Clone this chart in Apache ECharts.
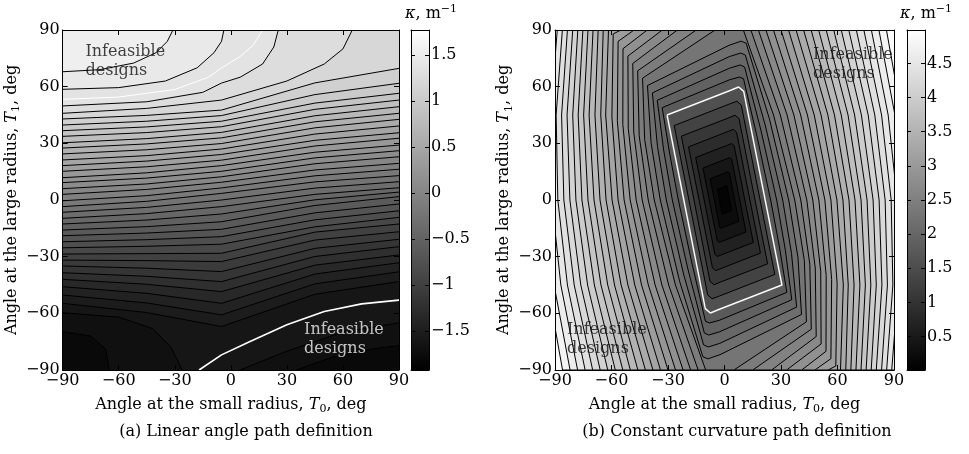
<!DOCTYPE html>
<html>
<head>
<meta charset="utf-8">
<title>Curvature maps</title>
<script src="https://cdn.jsdelivr.net/npm/echarts@6.0.0/dist/echarts.min.js"></script>
<style>
  html, body { margin: 0; padding: 0; background: #fff; }
  #chart { width: 969px; height: 454px; }
</style>
</head>
<body>
<div id="chart"></div>
<script>
const FONT = 'DejaVu Serif';
const FS = 16;

// ---------- (a) linear angle path definition ----------
const aRange = [-1.92, 1.77];
const aBarTicks = [-1.5, -1, -0.5, 0, 0.5, 1, 1.5];
const aStep = 0.09;
const aCols = [-90, -45, -5, 45, 90];
// T1 of each edge-to-edge contour read at aCols, lowest first
const aRows = [
  [-54.7, -59.6, -67.0, -49.9, -43.2],
  [-50.3, -54.5, -60.8, -44.4, -38.0],
  [-45.9, -49.4, -54.7, -39.2, -33.2],
  [-42.0, -44.6, -48.5, -34.5, -29.1],
  [-38.5, -40.4, -43.2, -29.9, -24.7],
  [-34.9, -36.1, -37.9, -25.6, -20.8],
  [-31.8, -32.1, -32.6, -21.2, -16.8],
  [-28.6, -28.4, -28.2, -17.0, -12.7],
  [-25.3, -24.5, -23.4, -14.2, -9.2],
  [-22.1, -21.0, -19.4, -10.5, -5.7],
  [-18.9, -17.5, -15.5, -6.8, -2.1],
  [-15.9, -14.1, -11.5, -2.9, 1.8],
  [-12.7, -10.6, -7.4, 0.1, 4.2],
  [-9.7, -7.2, -3.5, 3.0, 6.5],
  [-6.5, -3.9, 0.0, 6.3, 9.7],
  [-3.5, -0.7, 3.5, 9.6, 12.9],
  [-0.4, 2.3, 6.4, 12.8, 16.3],
  [3.0, 5.6, 9.4, 15.9, 19.4],
  [6.0, 8.5, 12.3, 19.2, 22.9],
  [9.2, 11.6, 15.2, 22.3, 26.1],
  [11.8, 14.4, 18.2, 25.3, 29.1],
  [15.2, 17.6, 21.1, 28.6, 32.7],
  [18.2, 20.6, 24.1, 31.6, 35.6],
  [21.2, 23.5, 27.0, 34.9, 39.2],
  [24.4, 26.6, 29.9, 38.2, 42.7],
  [27.5, 29.7, 32.9, 41.4, 45.9],
  [30.3, 32.5, 35.8, 44.6, 49.4],
  [33.7, 35.7, 38.8, 48.0, 52.9],
  [36.7, 38.7, 41.7, 51.3, 56.5],
  [39.7, 41.7, 44.7, 55.8, 61.8],
  [42.9, 44.8, 47.6, 62.0, 69.7]
];
const aRowLevels = [-1.56, -1.47, -1.38, -1.29, -1.20, -1.11, -1.02, -0.93, -0.84, -0.75,
  -0.66, -0.57, -0.48, -0.39, -0.30, -0.21, -0.12, -0.03, 0.06, 0.15, 0.24, 0.33, 0.42,
  0.51, 0.60, 0.69, 0.78, 0.87, 0.96, 1.05, 1.14];
// contours leaving through the top edge, lowest first
const aTopLines = [
  [[-90, 45.9], [-45, 48.5], [-5, 52.9], [30, 63], [50, 72], [60, 80], [65, 90]],
  [[-90, 49.8], [-45, 52], [-15, 57], [-5, 61.9], [5, 65], [17, 72], [23, 81], [25.4, 90]],
  [[-90, 58.6], [-60, 59.5], [-35, 63], [-18, 70], [-9, 78], [-5, 84], [-3.7, 90]],
  [[-90, 67.9], [-70, 69], [-52, 72.5], [-40, 78], [-34, 84], [-31, 90]]
];
const aTopLevels = [1.23, 1.32, 1.41, 1.50];
// small contours round the bottom-left and bottom-right corners
const aLeftArcs = [
  [[-90, -59.7], [-60, -62], [-42, -68], [-32, -78], [-26, -90]],
  [[-90, -69.7], [-75, -72], [-67, -79], [-65, -90]]
];
const aLeftArcLevels = [-1.65, -1.74];
const aRightArcs = [
  [[5, -90], [30, -80], [60, -70], [90, -65]],
  [[35, -90], [55, -83], [75, -79], [90, -77]]
];
const aRightArcLevels = [-1.65, -1.74];
// feasibility limits (white)
const aLimitTop = [[-90, 53.3], [-60, 54.5], [-30, 58.5], [-12, 65], [-5, 69.9], [5, 76], [12, 82], [17, 90]];
const aLimitBottom = [[-17, -90], [-5, -82], [10, -75], [30, -66], [50, -59], [70, -55], [90, -53]];

// ---------- (b) constant curvature path definition ----------
const bRange = [0.01, 4.99];
const bBarTicks = [0.5, 1, 1.5, 2, 2.5, 3, 3.5, 4, 4.5];
// contour loops [T0, T1], outermost first (parts outside the frame are clipped)
const bLoops = [
  [[-94, 90], [86, 90], [94, 45], [98, 0], [98, -45], [94, -90], [-86, -90], [-94, -45], [-98, 0], [-98, 45]],
  [[-91.5, 90], [82, 90], [90.5, 45], [94.9, 0], [95.2, -45], [91.5, -90], [-82, -90], [-90.5, -45], [-94.9, 0], [-95.2, 45]],
  [[-88.8, 90], [78, 90], [86.9, 45], [91.7, 0], [92.3, -45], [88.8, -90], [-78, -90], [-86.9, -45], [-91.7, 0], [-92.3, 45]],
  [[-86.1, 90], [74, 90], [83.4, 45], [88.5, 0], [89.4, -45], [86.1, -90], [-74, -90], [-83.4, -45], [-88.5, 0], [-89.4, 45]],
  [[-83.4, 90], [70, 90], [79.8, 45], [85.3, 0], [86.5, -45], [83.4, -90], [-70, -90], [-79.8, -45], [-85.3, 0], [-86.5, 45]],
  [[-80.6, 90], [66, 90], [76.3, 45], [82.1, 0], [83.6, -45], [80.6, -90], [-66, -90], [-76.3, -45], [-82.1, 0], [-83.6, 45]],
  [[-77.9, 90], [62, 90], [72.7, 45], [78.9, 0], [80.6, -45], [77.9, -90], [-62, -90], [-72.7, -45], [-78.9, 0], [-80.6, 45]],
  [[-75.2, 90], [58, 90], [69.1, 45], [75.7, 0], [77.7, -45], [75.2, -90], [-58, -90], [-69.1, -45], [-75.7, 0], [-77.7, 45]],
  [[-72.5, 90], [54, 90], [65.6, 45], [72.5, 0], [74.8, -45], [72.5, -90], [-54, -90], [-65.6, -45], [-72.5, 0], [-74.8, 45]],
  [[-69.8, 90], [50, 90], [62.0, 45], [69.3, 0], [71.9, -45], [69.8, -90], [-50, -90], [-62.0, -45], [-69.3, 0], [-71.9, 45]],
  [[-67.1, 90], [46, 90], [58.4, 45], [66.1, 0], [68.8, -45], [67.1, -90], [-46, -90], [-58.4, -45], [-66.1, 0], [-68.8, 45]],
  [[-64.4, 90], [42, 90], [54.9, 45], [62.9, 0], [65.7, -45], [64.4, -90], [-42, -90], [-54.9, -45], [-62.9, 0], [-65.7, 45]],
  [[-61.6, 90], [38, 90], [51.3, 45], [59.7, 0], [63.1, -45], [61.6, -90], [-38, -90], [-51.3, -45], [-59.7, 0], [-63.1, 45]],
  [[-59.1, 87.9], [-55, 90], [34, 90], [47.65, 45], [56.5, 0], [59.8, -44], [59.1, -87.9], [55, -90], [-34, -90], [-47.65, -45], [-56.5, 0], [-59.8, 44]],
  [[-56.5, 84.0], [-48, 90], [30, 90], [44.05, 45], [53.3, 0], [56.9, -42], [56.5, -84.0], [48, -90], [-30, -90], [-44.05, -45], [-53.3, 0], [-56.9, 42]],
  [[-53.9, 80.1], [-41, 90], [26, 90], [40.45, 45], [50.1, 0], [54.0, -40], [53.9, -80.1], [41, -90], [-26, -90], [-40.45, -45], [-50.1, 0], [-54.0, 40]],
  [[-51.3, 76.2], [-33, 90], [22, 90], [36.85, 45], [46.9, 0], [51.1, -38], [51.3, -76.2], [33, -90], [-22, -90], [-36.85, -45], [-46.9, 0], [-51.1, 38]],
  [[-48.7, 72.3], [-25, 90], [18, 90], [33.25, 45], [43.7, 0], [48.2, -36], [48.7, -72.3], [25, -90], [-18, -90], [-33.25, -45], [-43.7, 0], [-48.2, 36]],
  [[-46.1, 68.4], [-15, 90], [14, 90], [29.65, 45], [40.5, 0], [45.3, -34], [46.1, -68.4], [15, -90], [-14, -90], [-29.65, -45], [-40.5, 0], [-45.3, 34]],
  [[-43.5, 64.5], [-5, 90], [10, 90], [26.05, 45], [37.3, 0], [42.4, -32], [43.5, -64.5], [5, -90], [-10, -90], [-26.05, -45], [-37.3, 0], [-42.4, 32]],
  [[-40.9, 60.6], [2.4, 81.9], [8.8, 84.1], [11.5, 83.0], [23.85, 43], [34.1, 0], [39.0, -30.3], [40.9, -60.6],
    [-2.4, -81.9], [-8.8, -84.1], [-11.5, -83.0], [-23.85, -43], [-34.1, 0], [-39.0, 30.3]],
  [[-38.3, 56.7], [2.5, 75.9], [8.6, 77.8], [11.1, 76.7], [21.6, 39.75], [30.9, 0], [35.6, -28.35], [38.3, -56.7],
    [-2.5, -75.9], [-8.6, -77.8], [-11.1, -76.7], [-21.6, -39.75], [-30.9, 0], [-35.6, 28.35]],
  [[-35.7, 52.8], [2.7, 69.8], [8.4, 71.5], [10.7, 70.4], [19.45, 36.5], [27.7, 0], [32.3, -26.4], [35.7, -52.8],
    [-2.7, -69.8], [-8.4, -71.5], [-10.7, -70.4], [-19.45, -36.5], [-27.7, 0], [-32.3, 26.4]],
  [[-33.1, 48.9], [2.8, 63.7], [8.0, 65.1], [10.1, 64.2], [17.35, 33.25], [24.5, 0], [29.1, -24.45], [33.1, -48.9],
    [-2.8, -63.7], [-8.0, -65.1], [-10.1, -64.2], [-17.35, -33.25], [-24.5, 0], [-29.1, 24.45]],
  [[-30.5, 45.0], [3.0, 58.0], [7.5, 59.8], [10.2, 57.5], [21.6, 0], [30.5, -45.0],
    [-3.0, -58.0], [-7.5, -59.8], [-10.2, -57.5], [-21.6, 0]],
  [[-26.7, 39.4], [2.6, 50.8], [6.6, 52.3], [8.9, 50.3], [18.9, 0], [26.7, -39.4],
    [-2.6, -50.8], [-6.6, -52.3], [-8.9, -50.3], [-18.9, 0]],
  [[-22.9, 33.8], [2.3, 43.5], [5.6, 44.9], [7.7, 43.1], [16.2, 0], [22.9, -33.8],
    [-2.3, -43.5], [-5.6, -44.9], [-7.7, -43.1], [-16.2, 0]],
  [[-19.1, 28.1], [1.9, 36.3], [4.7, 37.4], [6.4, 35.9], [13.5, 0], [19.1, -28.1],
    [-1.9, -36.3], [-4.7, -37.4], [-6.4, -35.9], [-13.5, 0]],
  [[-15.3, 22.5], [1.5, 29.0], [3.8, 29.9], [5.1, 28.8], [10.8, 0], [15.3, -22.5],
    [-1.5, -29.0], [-3.8, -29.9], [-5.1, -28.8], [-10.8, 0]],
  [[-11.4, 16.9], [1.1, 21.8], [2.8, 22.4], [3.8, 21.6], [8.1, 0], [11.4, -16.9],
    [-1.1, -21.8], [-2.8, -22.4], [-3.8, -21.6], [-8.1, 0]],
  [[-7.6, 11.3], [0.8, 14.5], [1.9, 15.0], [2.6, 14.4], [5.4, 0], [7.6, -11.3],
    [-0.8, -14.5], [-1.9, -15.0], [-2.6, -14.4], [-5.4, 0]],
  [[-3.8, 5.6], [0.4, 7.3], [0.9, 7.5], [1.3, 7.2], [2.7, 0], [3.8, -5.6],
    [-0.4, -7.3], [-0.9, -7.5], [-1.3, -7.2], [-2.7, 0]]
];
const bLevels = [4.84, 4.71, 4.58, 4.45, 4.32, 4.19, 4.06, 3.93, 3.8, 3.67, 3.53, 3.4, 3.27,
  3.14, 3.01, 2.88, 2.75, 2.62, 2.49, 2.36, 2.22, 2.09, 1.96, 1.83, 1.7, 1.45, 1.2, 0.97,
  0.75, 0.54, 0.34, 0.16];
const bLimit = [[-30.5, 45], [3, 58], [7.5, 59.8], [10.2, 57.5], [21.6, 0], [30.5, -45],
  [-3, -58], [-7.5, -59.8], [-10.2, -57.5], [-21.6, 0], [-30.5, 45]];

// ---------- helpers ----------
const OUT = 130;
const minus = v => (v < 0 ? '\u2212' + String(-v) : String(v));

function grayOf(v, range) {
  let t = (v - range[0]) / (range[1] - range[0]);
  t = Math.max(0, Math.min(1, t));
  const g = Math.round(t * 255);
  return 'rgb(' + g + ',' + g + ',' + g + ')';
}

// polygons for (a), in painting order
const aPolys = [], aFills = [], aStrokes = [];
function addA(poly, fill, stroke) { aPolys.push(poly); aFills.push(fill); aStrokes.push(stroke); }
addA([[-OUT, -OUT], [OUT, -OUT], [OUT, OUT], [-OUT, OUT]], grayOf(aRowLevels[0] - aStep / 2, aRange), false);
aRightArcs.forEach((pts, i) => {
  const last = pts[pts.length - 1];
  addA(pts.concat([[OUT, last[1]], [OUT, -OUT], [pts[0][0], -OUT]]),
    grayOf(aRightArcLevels[i] - aStep / 2, aRange), true);
});
aLeftArcs.forEach((pts, i) => {
  const last = pts[pts.length - 1];
  addA(pts.concat([[last[0], -OUT], [-OUT, -OUT], [-OUT, pts[0][1]]]),
    grayOf(aLeftArcLevels[i] - aStep / 2, aRange), true);
});
aRows.forEach((row, i) => {
  const pts = row.map((t1, j) => [aCols[j], t1]);
  addA(pts.concat([[OUT, row[row.length - 1]], [OUT, OUT], [-OUT, OUT], [-OUT, row[0]]]),
    grayOf(aRowLevels[i] + aStep / 2, aRange), true);
});
aTopLines.forEach((pts, i) => {
  const last = pts[pts.length - 1];
  addA(pts.concat([[last[0], OUT], [-OUT, OUT], [-OUT, pts[0][1]]]),
    grayOf(aTopLevels[i] + aStep / 2, aRange), true);
});

// polygons for (b), outermost first; each band takes the mean of its two bounding levels
const bPolys = [[[-OUT, -OUT], [OUT, -OUT], [OUT, OUT], [-OUT, OUT]]].concat(bLoops);
const bFills = [grayOf((bRange[1] + bLevels[0]) / 2, bRange)].concat(bLevels.map((l, i) => {
  const inner = i + 1 < bLevels.length ? bLevels[i + 1] : bRange[0];
  return grayOf((l + inner) / 2, bRange);
}));
const bStrokes = [false].concat(bLoops.map(() => true));

function contourSeries(xi, yi, polys, fills, strokes) {
  return {
    type: 'custom', xAxisIndex: xi, yAxisIndex: yi, clip: true, silent: true, animation: false,
    data: polys.map((p, i) => [i, 0]),
    renderItem: (params, api) => {
      const i = params.dataIndex;
      return {
        type: 'polygon',
        shape: { points: polys[i].map(pt => api.coord(pt)) },
        style: { fill: fills[i], stroke: strokes[i] ? '#000' : null, lineWidth: 1, lineJoin: 'round' }
      };
    }
  };
}

function barSeries(xi, yi, range) {
  return {
    type: 'custom', xAxisIndex: xi, yAxisIndex: yi, silent: true, animation: false,
    data: [[0, range[0]]],
    renderItem: (params, api) => {
      const p0 = api.coord([0, range[1]]);
      const p1 = api.coord([1, range[0]]);
      return {
        type: 'rect',
        shape: { x: p0[0], y: p0[1], width: p1[0] - p0[0], height: p1[1] - p0[1] },
        style: {
          fill: new echarts.graphic.LinearGradient(0, 0, 0, 1, [
            { offset: 0, color: '#ffffff' }, { offset: 1, color: '#000000' }
          ])
        }
      };
    }
  };
}

function limitSeries(xi, yi, pts, width) {
  return {
    type: 'line', xAxisIndex: xi, yAxisIndex: yi, data: pts, showSymbol: false, silent: true,
    animation: false, z: 4, lineStyle: { color: '#ffffff', width: width }
  };
}

function noteSeries(xi, yi, pos, color) {
  return {
    type: 'scatter', xAxisIndex: xi, yAxisIndex: yi, data: [pos], symbolSize: 1, z: 6,
    silent: true, animation: false, itemStyle: { color: 'rgba(0,0,0,0)' },
    label: {
      show: true, position: 'inside', align: 'left', verticalAlign: 'top',
      formatter: 'Infeasible\ndesigns', color: color, fontFamily: FONT, fontSize: FS, lineHeight: 19
    }
  };
}

const subRich = {
  i: { fontStyle: 'italic', fontFamily: FONT, fontSize: FS, lineHeight: 21 },
  s: { fontFamily: FONT, fontSize: 11, lineHeight: 11, verticalAlign: 'bottom' }
};

function angleX(grid, pos, labels) {
  return {
    type: 'value', gridIndex: grid, position: pos, min: -90, max: 90, interval: 30, z: 10,
    axisLine: { show: true, onZero: false, lineStyle: { color: '#000', width: 1 } },
    axisTick: { show: true, inside: true, length: 5, lineStyle: { color: '#000' } },
    axisLabel: { show: labels, color: '#000', fontFamily: FONT, fontSize: FS, margin: 3, formatter: minus },
    splitLine: { show: false },
    name: labels ? 'Angle at the small radius, {i|T}{s|0}, deg' : '',
    nameLocation: 'middle', nameGap: 19,
    nameTextStyle: { color: '#000', fontFamily: FONT, fontSize: FS, lineHeight: 21, rich: subRich }
  };
}
function angleY(grid, pos, labels) {
  return {
    type: 'value', gridIndex: grid, position: pos, min: -90, max: 90, interval: 30, z: 10,
    axisLine: { show: true, onZero: false, lineStyle: { color: '#000', width: 1 } },
    axisTick: { show: true, inside: true, length: 5, lineStyle: { color: '#000' } },
    axisLabel: { show: labels, color: '#000', fontFamily: FONT, fontSize: FS, margin: 3, formatter: minus },
    splitLine: { show: false },
    name: labels ? 'Angle at the large radius, {i|T}{s|1}, deg' : '',
    nameLocation: 'middle', nameGap: 37, nameRotate: 90,
    nameTextStyle: { color: '#000', fontFamily: FONT, fontSize: FS, lineHeight: 21, rich: subRich }
  };
}
function barX(grid, pos) {
  return {
    type: 'value', gridIndex: grid, position: pos, min: 0, max: 1, z: 10,
    axisLine: { show: true, onZero: false, lineStyle: { color: '#000', width: 1 } },
    axisTick: { show: false }, axisLabel: { show: false }, splitLine: { show: false }
  };
}
function barY(grid, pos, range, ticks, labels) {
  return {
    type: 'value', gridIndex: grid, position: pos, min: range[0], max: range[1], z: 10,
    axisLine: { show: true, onZero: false, lineStyle: { color: '#000', width: 1 } },
    axisTick: { show: true, inside: true, length: 4, customValues: ticks, lineStyle: { color: '#000' } },
    axisLabel: {
      show: labels, customValues: ticks, color: '#000', fontFamily: FONT, fontSize: FS,
      margin: 2, formatter: minus
    },
    splitLine: { show: false }
  };
}

const chart = echarts.init(document.getElementById('chart'), null, { renderer: 'canvas' });

const capStyle = { fontFamily: FONT, fontSize: FS, fill: '#000', align: 'center', verticalAlign: 'middle' };
const kappaRich = {
  i: { fontStyle: 'italic', fontFamily: FONT, fontSize: FS, lineHeight: 20 },
  p: { fontFamily: FONT, fontSize: 11, lineHeight: 11, verticalAlign: 'top' }
};

chart.setOption({
  backgroundColor: '#fff',
  animation: false,
  grid: [
    { left: 59, top: 30, width: 340, height: 340 },
    { left: 411, top: 30, width: 18, height: 340 },
    { left: 555, top: 30, width: 339, height: 340 },
    { left: 907, top: 30, width: 18, height: 340 }
  ],
  xAxis: [
    angleX(0, 'bottom', true), angleX(0, 'top', false),
    barX(1, 'bottom'), barX(1, 'top'),
    angleX(2, 'bottom', true), angleX(2, 'top', false),
    barX(3, 'bottom'), barX(3, 'top')
  ],
  yAxis: [
    angleY(0, 'left', true), angleY(0, 'right', false),
    barY(1, 'left', aRange, aBarTicks, false), barY(1, 'right', aRange, aBarTicks, true),
    angleY(2, 'left', true), angleY(2, 'right', false),
    barY(3, 'left', bRange, bBarTicks, false), barY(3, 'right', bRange, bBarTicks, true)
  ],
  series: [
    contourSeries(0, 0, aPolys, aFills, aStrokes),
    limitSeries(0, 0, aLimitTop, 1),
    limitSeries(0, 0, aLimitBottom, 1.6),
    noteSeries(0, 0, [-77.8, 83.6], '#111'),
    noteSeries(0, 0, [39.2, -63.5], '#f0f0f0'),
    barSeries(2, 2, aRange),
    contourSeries(4, 4, bPolys, bFills, bStrokes),
    limitSeries(4, 4, bLimit, 1.5),
    noteSeries(4, 4, [47.0, 82.1], '#111'),
    noteSeries(4, 4, [-83.6, -63.5], '#111'),
    barSeries(6, 6, bRange)
  ],
  graphic: [
    { type: 'text', x: 405, y: 4, style: { text: '{i|\u03ba}, m{p|\u22121}', rich: kappaRich, fontFamily: FONT, fontSize: FS, fill: '#000' } },
    { type: 'text', x: 900, y: 4, style: { text: '{i|\u03ba}, m{p|\u22121}', rich: kappaRich, fontFamily: FONT, fontSize: FS, fill: '#000' } },
    { type: 'text', x: 246, y: 432, style: Object.assign({ text: '(a) Linear angle path definition' }, capStyle) },
    { type: 'text', x: 737, y: 432, style: Object.assign({ text: '(b) Constant curvature path definition' }, capStyle) }
  ]
});
</script>
</body>
</html>
